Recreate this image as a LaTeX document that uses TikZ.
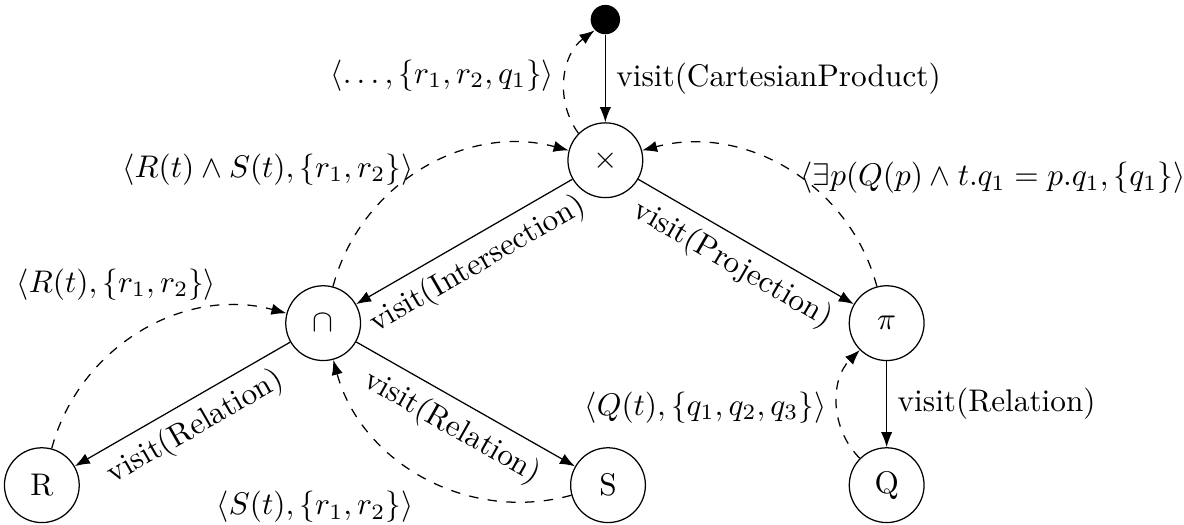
\documentclass[tikz,border=0pt]{standalone}
\usepackage{amsmath,amssymb}
\usepackage{tikz}
\usetikzlibrary{arrows.meta,positioning}
\tikzset{>=Latex}
\tikzset{
  op/.style={circle, draw, minimum size=8.4mm, inner sep=0pt},
  entry/.style={circle, fill=black, minimum size=3.3mm, inner sep=0pt},
  visit/.style={->},
  ret/.style={->, dashed},
}

\begin{document}
\begin{tikzpicture}
\useasboundingbox (0,0) rectangle (13.30,-5.89);
\node[entry] (init) at (6.80,-0.22) {};
\node[op] (prod) at (6.80,-1.80) {$\times$};
\node[op] (inter) at (3.63,-3.63) {$\cap$};
\node[op] (proj) at (9.96,-3.63) {$\pi$};
\node[op] (relR) at (0.47,-5.45) {R};
\node[op] (relS) at (6.83,-5.45) {S};
\node[op] (relQ) at (9.96,-5.45) {Q};

% visits down the tree
\draw[visit] (init) -- node[right] {visit(CartesianProduct)} (prod);
\draw[visit] (prod) -- node[sloped, below] {visit(Intersection)} (inter);
\draw[visit] (prod) -- node[sloped, below] {visit(Projection)} (proj);
\draw[visit] (inter) -- node[sloped, below] {visit(Relation)} (relR);
\draw[visit] (inter) -- node[sloped, below] {visit(Relation)} (relS);
\draw[visit] (proj) -- node[right] {visit(Relation)} (relQ);

% results back up
\draw[ret] (relR) to[bend left=45] node[pos=0.75, anchor=south east, inner sep=1pt, xshift=3pt, yshift=1.5pt] {$\langle R(t), \{r_1, r_2\}\rangle$} (inter);
\draw[ret] (relS) to[bend left=45] node[pos=0.5, below left, yshift=-1pt] {$\langle S(t), \{r_1, r_2\}\rangle$} (inter);
\draw[ret] (relQ) to[bend left=45] node[left, yshift=-1pt] {$\langle Q(t), \{q_1, q_2, q_3\}\rangle$} (proj);
\draw[ret] (inter) to[bend left=45] node[pos=0.42, anchor=south east, inner sep=1pt, xshift=4.5pt, yshift=-2pt] {$\langle R(t) \wedge S(t), \{r_1, r_2\}\rangle$} (prod);
\draw[ret] (proj) to[bend right=45] node[pos=0.45, anchor=west, inner sep=0pt] {$\langle \exists p(Q(p) \wedge t.q_1 = p.q_1, \{q_1\}\rangle$} (prod);
\draw[ret] (prod) to[bend left=45] node[left, yshift=1pt] {$\langle \ldots, \{r_1, r_2, q_1\}\rangle$} (init);
\end{tikzpicture}
\end{document}
